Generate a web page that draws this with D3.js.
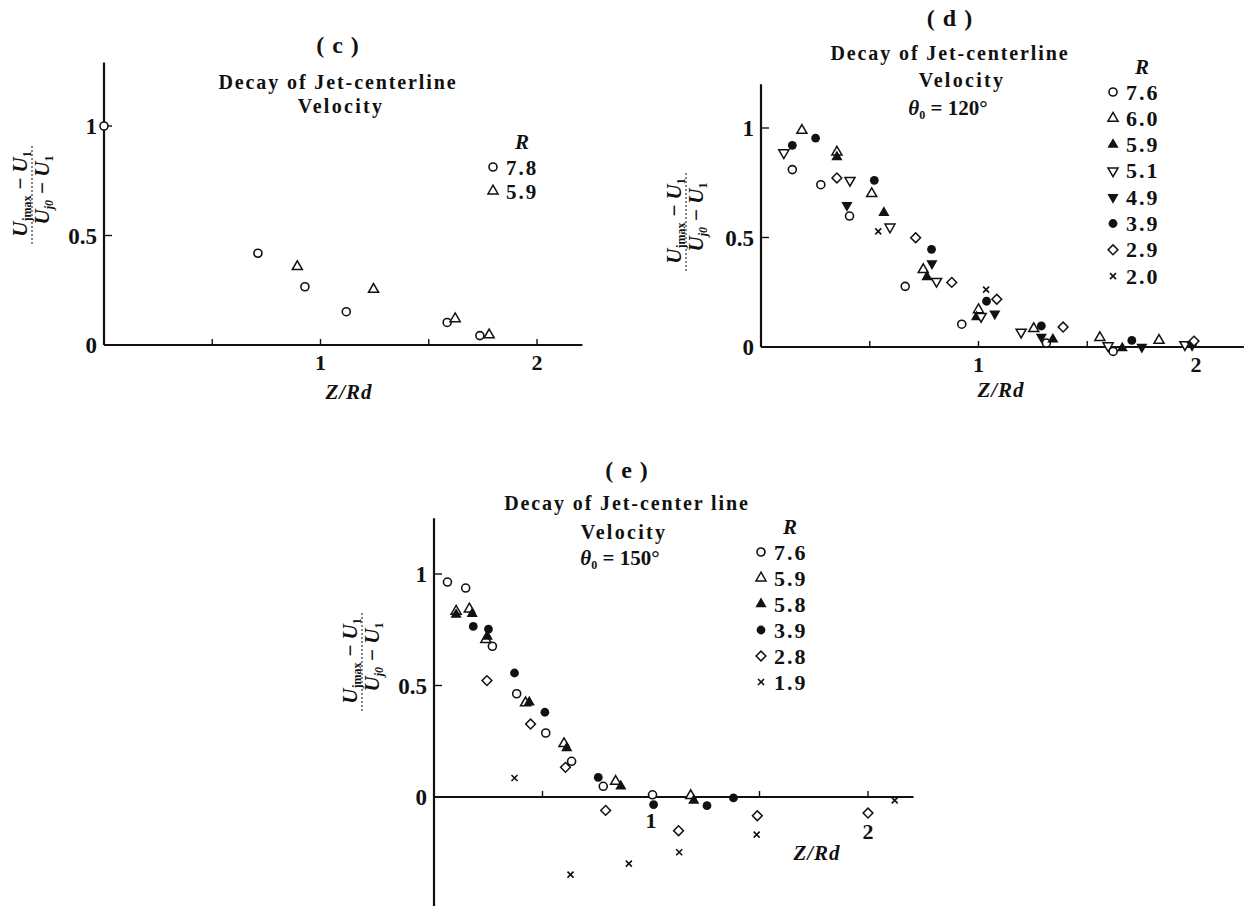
<!DOCTYPE html>
<html><head><meta charset="utf-8">
<script src="https://cdn.jsdelivr.net/npm/d3@7"></script>
<style>
body{margin:0;background:#fff}
svg{display:block}
text{font-family:"Liberation Serif","DejaVu Serif",serif;fill:#111}
</style>
</head><body>
<svg id="chart" width="1250" height="906"></svg>
<script>
// ---------------- DATA ----------------
const xTickValues = [0.5, 1, 1.5, 2];
const xLabelValues = [1, 2];
const xLabelText = ["1", "2"];
const yTickValues = [0.5, 1];
const yLabelValues = [0, 0.5, 1];
const yLabelText = ["0", "0.5", "1"];

// panel (c)
const cTitle = ["( c )", "Decay of Jet-centerline", "Velocity"];
const cLegend = ["7.8", "5.9"];
const c_R78 = [[0,1.0],[0.711,0.419],[0.928,0.266],[1.119,0.152],[1.585,0.103],[1.736,0.043]];
const c_R59 = [[0.893,0.358],[1.245,0.254],[1.622,0.120],[1.779,0.046]];

// panel (d)
const dTitle = ["( d )", "Decay of Jet-centerline", "Velocity", "120°"];
const dLegend = ["7.6", "6.0", "5.9", "5.1", "4.9", "3.9", "2.9", "2.0"];
const d_R76 = [[0.144,0.810],[0.275,0.741],[0.407,0.598],[0.663,0.277],[0.923,0.104],[1.312,0.018],[1.619,-0.020]];
const d_R60 = [[0.188,0.989],[0.349,0.890],[0.509,0.700],[0.746,0.353],[1.0,0.170],[1.254,0.084],[1.558,0.043],[1.830,0.030]];
const d_R59 = [[0.349,0.868],[0.565,0.613],[0.763,0.320],[0.991,0.137],[1.342,0.035],[1.661,-0.005]];
const d_R51 = [[0.105,0.887],[0.409,0.761],[0.593,0.548],[0.807,0.300],[1.012,0.140],[1.196,0.068],[1.596,0.006],[1.949,0.011]];
const d_R49 = [[0.395,0.647],[0.786,0.381],[1.075,0.152],[1.289,0.046],[1.751,0.0],[1.982,0.008]];
const d_R39 = [[0.144,0.921],[0.251,0.954],[0.521,0.761],[0.784,0.446],[1.037,0.209],[1.289,0.096],[1.705,0.030]];
const d_R29 = [[0.349,0.772],[0.711,0.499],[0.877,0.295],[1.084,0.218],[1.389,0.091],[1.991,0.027]];
const d_R20 = [[0.539,0.528],[1.035,0.262]];

// panel (e)
const eTitle = ["( e )", "Decay of Jet-center line", "Velocity", "150°"];
const eLegend = ["7.6", "5.9", "5.8", "3.9", "2.8", "1.9"];
const e_R76 = [[0.062,0.964],[0.146,0.937],[0.269,0.676],[0.381,0.463],[0.515,0.287],[0.634,0.160],[0.780,0.048],[1.007,0.010]];
const e_R59 = [[0.102,0.833],[0.163,0.843],[0.239,0.706],[0.422,0.422],[0.599,0.239],[0.837,0.070],[1.183,0.006]];
const e_R58 = [[0.102,0.818],[0.176,0.822],[0.246,0.720],[0.439,0.425],[0.612,0.220],[0.861,0.048],[1.197,-0.016]];
const e_R39 = [[0.181,0.765],[0.251,0.753],[0.371,0.556],[0.511,0.380],[0.757,0.088],[1.012,-0.034],[1.258,-0.039],[1.380,-0.004]];
const e_R28 = [[0.244,0.522],[0.445,0.327],[0.606,0.133],[0.791,-0.060],[1.127,-0.151],[1.490,-0.084],[2.0,-0.072]];
const e_R19 = [[0.371,0.085],[0.629,-0.348],[0.898,-0.299],[1.130,-0.248],[1.487,-0.169],[2.123,-0.015]];

// ---------------- DRAWING ----------------
const svg = d3.select("#chart");
const INK = "#111";

function marker(g, shape, x, y) {
  const sym = d3.symbol();
  switch (shape) {
    case "circleOpen":
      g.append("circle").attr("cx", x).attr("cy", y).attr("r", 4)
        .attr("fill", "#fff").attr("stroke", INK).attr("stroke-width", 1.6); break;
    case "circleFilled":
      g.append("circle").attr("cx", x).attr("cy", y).attr("r", 4.4).attr("fill", INK); break;
    case "triUpOpen":
      g.append("path").attr("d", sym.type(d3.symbolTriangle).size(44)())
        .attr("transform", `translate(${x},${y})`)
        .attr("fill", "#fff").attr("stroke", INK).attr("stroke-width", 1.5); break;
    case "triUpFilled":
      g.append("path").attr("d", sym.type(d3.symbolTriangle).size(54)())
        .attr("transform", `translate(${x},${y})`).attr("fill", INK); break;
    case "triDownOpen":
      g.append("path").attr("d", sym.type(d3.symbolTriangle).size(44)())
        .attr("transform", `translate(${x},${y}) rotate(180)`)
        .attr("fill", "#fff").attr("stroke", INK).attr("stroke-width", 1.5); break;
    case "triDownFilled":
      g.append("path").attr("d", sym.type(d3.symbolTriangle).size(54)())
        .attr("transform", `translate(${x},${y}) rotate(180)`).attr("fill", INK); break;
    case "diamondOpen":
      g.append("path").attr("d", sym.type(d3.symbolSquare).size(48)())
        .attr("transform", `translate(${x},${y}) rotate(45)`)
        .attr("fill", "#fff").attr("stroke", INK).attr("stroke-width", 1.5); break;
    case "cross": {
      const p = d3.path();
      p.moveTo(-3, -3); p.lineTo(3, 3); p.moveTo(3, -3); p.lineTo(-3, 3);
      g.append("path").attr("d", p.toString())
        .attr("transform", `translate(${x},${y})`)
        .attr("fill", "none").attr("stroke", INK).attr("stroke-width", 1.6); break;
    }
  }
}

function yLabel(g, cx, cy) {
  const gg = g.append("g").attr("transform", `translate(${cx},${cy}) rotate(-90)`);
  const num = gg.append("text").attr("x", 0).attr("y", -5).attr("text-anchor", "middle")
    .attr("font-size", 21).attr("font-style", "italic").attr("font-weight", "bold");
  num.append("tspan").text("U");
  num.append("tspan").attr("font-size", 12).attr("dy", 4).attr("font-style", "normal").text("jmax");
  num.append("tspan").attr("dy", -4).text(" − U");
  num.append("tspan").attr("font-size", 12).attr("dy", 4).attr("font-style", "normal").text("1");
  gg.append("line").attr("x1", -50).attr("x2", 50).attr("y1", 0).attr("y2", 0)
    .attr("stroke", INK).attr("stroke-width", 1).attr("stroke-dasharray", "2,2");
  const den = gg.append("text").attr("x", 4).attr("y", 17).attr("text-anchor", "middle")
    .attr("font-size", 21).attr("font-style", "italic").attr("font-weight", "bold");
  den.append("tspan").text("U");
  den.append("tspan").attr("font-size", 12).attr("dy", 4).text("j0");
  den.append("tspan").attr("dy", -4).text(" − U");
  den.append("tspan").attr("font-size", 12).attr("dy", 4).attr("font-style", "normal").text("1");
}

function panel(cfg) {
  const g = svg.append("g");
  const x = d3.scaleLinear().domain([0, 2]).range(cfg.xr);
  const y = d3.scaleLinear().domain([0, 1]).range(cfg.yr);

  // axes lines
  g.append("line").attr("x1", x(0)).attr("x2", x(cfg.xmax)).attr("y1", y(0)).attr("y2", y(0))
    .attr("stroke", INK).attr("stroke-width", 2.2);
  g.append("line").attr("x1", x(0)).attr("x2", x(0)).attr("y1", y(cfg.ymax)).attr("y2", y(cfg.ymin))
    .attr("stroke", INK).attr("stroke-width", 2.2);

  // x ticks (upward)
  g.selectAll(null).data(xTickValues).enter().append("line")
    .attr("x1", d => x(d)).attr("x2", d => x(d)).attr("y1", y(0)).attr("y2", y(0) - 6)
    .attr("stroke", INK).attr("stroke-width", 1.4);
  // y ticks (rightward)
  g.selectAll(null).data(yTickValues).enter().append("line")
    .attr("x1", x(0)).attr("x2", x(0) + 8).attr("y1", d => y(d)).attr("y2", d => y(d))
    .attr("stroke", INK).attr("stroke-width", 1.4);

  // tick labels
  g.selectAll(null).data(xLabelValues).enter().append("text")
    .attr("x", d => x(d)).attr("y", (d, i) => y(0) + cfg.xlabOff[i])
    .attr("text-anchor", "middle").attr("font-size", 22).attr("font-weight", "bold")
    .text((d, i) => xLabelText[i]);
  g.selectAll(null).data(yLabelValues).enter().append("text")
    .attr("x", x(0) - 7).attr("y", d => y(d) + 8)
    .attr("text-anchor", "end").attr("font-size", 23).attr("font-weight", "bold")
    .text((d, i) => yLabelText[i]);

  // axis title
  g.append("text").attr("x", cfg.zx).attr("y", cfg.zy).attr("text-anchor", "middle")
    .attr("font-size", 21).attr("font-style", "italic").attr("font-weight", "bold")
    .attr("letter-spacing", 1).text("Z/Rd");
  yLabel(g, cfg.ylx, cfg.yly);

  // titles
  const t = cfg.title;
  g.append("text").attr("x", cfg.tx).attr("y", cfg.ty[0]).attr("text-anchor", "middle")
    .attr("font-size", 24).attr("font-weight", "bold").attr("letter-spacing", 1).text(t[0]);
  g.append("text").attr("x", cfg.tx).attr("y", cfg.ty[1]).attr("text-anchor", "middle")
    .attr("font-size", 20).attr("font-weight", "bold").attr("letter-spacing", 1.9).text(t[1]);
  g.append("text").attr("x", cfg.tx + cfg.vdx).attr("y", cfg.ty[2]).attr("text-anchor", "middle")
    .attr("font-size", 20).attr("font-weight", "bold").attr("letter-spacing", 2.3).text(t[2]);
  if (t[3]) {
    const th = g.append("text").attr("x", cfg.tx + cfg.thdx).attr("y", cfg.ty[3]).attr("text-anchor", "middle")
      .attr("font-size", 21).attr("font-weight", "bold");
    th.append("tspan").attr("font-style", "italic").text("θ");
    th.append("tspan").attr("font-size", 12).attr("dy", 4).text("0");
    th.append("tspan").attr("dy", -4).text(" = " + t[3]);
  }

  // data
  cfg.series.forEach((s, i) => {
    s.data.forEach(p => marker(g, cfg.shapes[i], x(p[0]), y(p[1])));
  });

  // legend
  g.append("text").attr("x", cfg.lx + 29).attr("y", cfg.ly - 18).attr("text-anchor", "middle")
    .attr("font-size", 21).attr("font-style", "italic").attr("font-weight", "bold").text("R");
  cfg.legend.forEach((lab, i) => {
    const yy = cfg.ly + i * cfg.lstep;
    marker(g, cfg.shapes[i], cfg.lx, yy);
    g.append("text").attr("x", cfg.lx + 13).attr("y", yy + 7.5)
      .attr("font-size", cfg.lfs).attr("font-weight", "bold").attr("letter-spacing", 2).text(lab);
  });
}

panel({
  xr: [104, 537], yr: [345, 126], xmax: 2.21, ymax: 1.29, ymin: 0,
  xlabOff: [25, 25], zx: 349, zy: 399, ylx: 32, yly: 194,
  title: cTitle, tx: 338, ty: [53, 89, 113], vdx: 3, thdx: 0,
  series: [{data: c_R78}, {data: c_R59}],
  shapes: ["circleOpen", "triUpOpen"],
  legend: cLegend, lx: 493, ly: 167, lstep: 24, lfs: 21
});

panel({
  xr: [761, 1196], yr: [347, 128], xmax: 2.22, ymax: 1.2, ymin: 0,
  xlabOff: [25, 25], zx: 1001, zy: 397, ylx: 686, yly: 221,
  title: dTitle, tx: 950, ty: [26, 60, 87, 115], vdx: 12, thdx: -2,
  series: [{data: d_R76}, {data: d_R60}, {data: d_R59}, {data: d_R51}, {data: d_R49}, {data: d_R39}, {data: d_R29}, {data: d_R20}],
  shapes: ["circleOpen", "triUpOpen", "triUpFilled", "triDownOpen", "triDownFilled", "circleFilled", "diamondOpen", "cross"],
  legend: dLegend, lx: 1113, ly: 92, lstep: 26.3, lfs: 22
});

panel({
  xr: [434, 868], yr: [797, 574], xmax: 2.21, ymax: 1.25, ymin: -0.5,
  xlabOff: [31, 42], zx: 817, zy: 860, ylx: 362, yly: 661,
  title: eTitle, tx: 627, ty: [478, 510, 539, 565], vdx: -3, thdx: -7,
  series: [{data: e_R76}, {data: e_R59}, {data: e_R58}, {data: e_R39}, {data: e_R28}, {data: e_R19}],
  shapes: ["circleOpen", "triUpOpen", "triUpFilled", "circleFilled", "diamondOpen", "cross"],
  legend: eLegend, lx: 761, ly: 552, lstep: 26, lfs: 22
});
</script>
</body></html>
